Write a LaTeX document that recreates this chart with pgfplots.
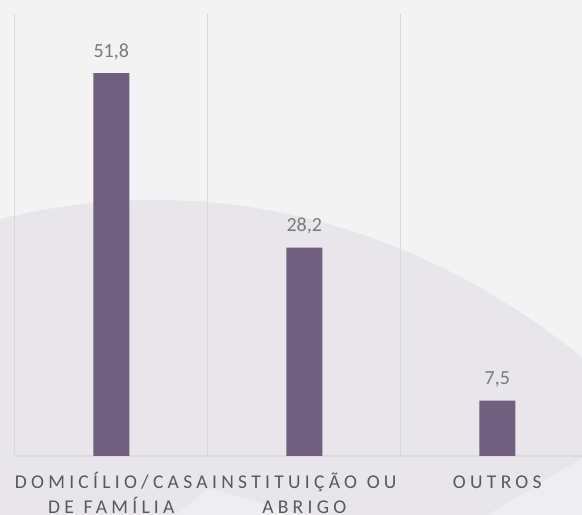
\documentclass[border=0pt]{standalone}
\usepackage{fontspec}
\setmainfont{Carlito}
\newfontfamily\tickfont[LetterSpace=22]{Carlito}
\usepackage{pgfplots}
\pgfplotsset{compat=1.18}
\definecolor{bg}{HTML}{F3F3F3}
\definecolor{ell}{HTML}{E8E6EB}
\definecolor{lite}{HTML}{EEEDF0}
\definecolor{barc}{HTML}{705F7E}
\definecolor{gridc}{HTML}{D9D9D9}
\definecolor{txt}{HTML}{595959}
\definecolor{val}{HTML}{7A7A7A}
\newcommand{\wsp}{\hspace{0.5em}}
\newcommand{\lst}{\rule{0pt}{17bp}}
\begin{document}
\begin{tikzpicture}[x=1bp,y=1bp]
\useasboundingbox (0,0) rectangle (582,515);
\fill[bg] (0,0) rectangle (582,515);
\begin{scope}
\clip (0,0) rectangle (582,515);
\fill[ell] (155,-705) ellipse [x radius=800, y radius=1020];
\fill[lite] (175,0) -- (210,27) -- (300,0) -- cycle;
\fill[lite] (487,0) -- (582,57) -- (582,0) -- cycle;
\end{scope}
\begin{axis}[
  at={(14.8bp,59bp)}, anchor=south west,
  scale only axis, width=579bp, height=442bp,
  xmin=-0.5, xmax=2.5, ymin=0, ymax=59.8,
  axis y line=none, axis x line*=bottom,
  x axis line style={gridc, line width=1.2bp},
  xtick={0,1,2},
  xticklabels={{\lst DOMICÍLIO/CASA\\DE\wsp FAMÍLIA},{\lst INSTITUIÇÃO\wsp OU\\ABRIGO},{\lst OUTROS}},
  major tick length=0pt,
  minor xtick={-0.5,0.5,1.5,2.5}, minor tick length=0pt,
  xminorgrids, minor grid style={gridc, line width=1.2bp},
  ytick=\empty,
  xticklabel style={font=\tickfont\fontsize{19.5bp}{25bp}\selectfont, text=txt, align=center, text width=240bp, anchor=north, inner sep=0pt, yshift=-15bp},
  ybar, bar width=36bp,
  nodes near coords, point meta=explicit symbolic,
  nodes near coords style={font=\fontsize{20bp}{24bp}\selectfont, text=val, anchor=base, inner sep=0pt, yshift=16bp},
]
\addplot[fill=barc, draw=none] coordinates {(0,51.8) [51,8] (1,28.2) [28,2] (2,7.5) [7,5]};
\end{axis}
\end{tikzpicture}
\end{document}
